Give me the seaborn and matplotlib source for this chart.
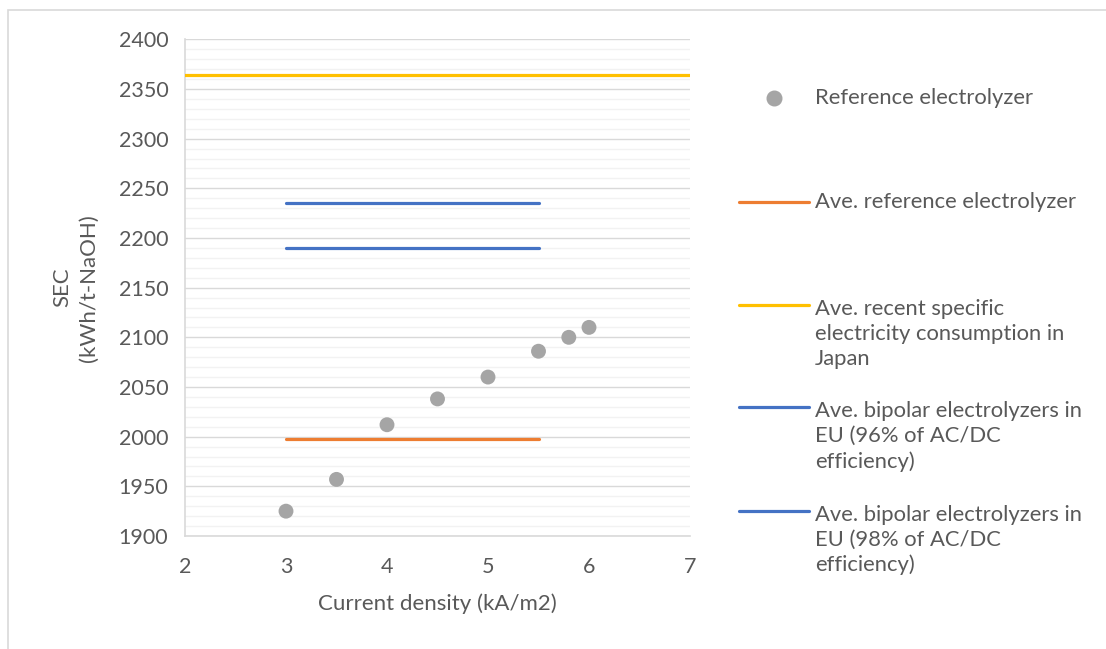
import matplotlib
matplotlib.use('Agg')
import matplotlib.pyplot as plt
import seaborn as sns
import pandas as pd
from matplotlib.lines import Line2D
from matplotlib.patches import Rectangle
from matplotlib.ticker import MultipleLocator

# Dados
current_density = [3, 3.5, 4, 4.5, 5, 5.5, 5.8, 6]
sec_reference = [1925, 1957, 2012, 2038, 2060, 2086, 2100, 2110]

avg_ref_x = [3, 5.5]
avg_ref_y = [1998, 1998]
avg_japan_x = [2, 7]
avg_japan_y = [2364, 2364]
avg_eu96_x = [3, 5.5]
avg_eu96_y = [2235, 2235]
avg_eu98_x = [3, 5.5]
avg_eu98_y = [2190, 2190]

legend_labels = [
    'Reference electrolyzer',
    'Ave. reference electrolyzer',
    'Ave. recent specific\nelectricity consumption in\nJapan',
    'Ave. bipolar electrolyzers in\nEU (96% of AC/DC\nefficiency)',
    'Ave. bipolar electrolyzers in\nEU (98% of AC/DC\nefficiency)',
]

c_gray = '#A5A5A5'
c_orange = '#ED7D31'
c_yellow = '#FFC000'
c_blue = '#4472C4'
c_text = '#595959'
c_axis = '#D9D9D9'

sns.set_style('white')
plt.rcParams['font.family'] = ['Lato', 'DejaVu Sans']

W, H = 1106, 649
fig = plt.figure(figsize=(W / 100, H / 100), dpi=100)
ax = fig.add_axes([185 / W, 1 - 536 / H, (690 - 185) / W, (536 - 39.3) / H])

df_pts = pd.DataFrame({'x': current_density, 'y': sec_reference})
sns.scatterplot(data=df_pts, x='x', y='y', ax=ax, color=c_gray, s=115,
                edgecolor='none', zorder=4)

lines = [
    (avg_ref_x, avg_ref_y, c_orange),
    (avg_japan_x, avg_japan_y, c_yellow),
    (avg_eu96_x, avg_eu96_y, c_blue),
    (avg_eu98_x, avg_eu98_y, c_blue),
]
for xs, ys, col in lines:
    sns.lineplot(x=xs, y=ys, ax=ax, color=col, linewidth=2.3, zorder=3)

ax.set_xlim(2, 7)
ax.set_ylim(1900, 2400)
ax.xaxis.set_major_locator(MultipleLocator(1))
ax.yaxis.set_major_locator(MultipleLocator(50))
ax.yaxis.set_minor_locator(MultipleLocator(10))
ax.grid(axis='y', which='major', color=c_axis, linewidth=1.0, zorder=0)
ax.grid(axis='y', which='minor', color='#F2F2F2', linewidth=1.0, zorder=0)
ax.grid(axis='x', visible=False)
ax.set_axisbelow(True)

for s in ['top', 'right']:
    ax.spines[s].set_visible(False)
for s in ['left', 'bottom']:
    ax.spines[s].set_color(c_axis)
    ax.spines[s].set_linewidth(1.2)

ax.tick_params(axis='both', which='major', direction='out', length=6,
               width=1, color=c_axis, labelsize=15.5, labelcolor=c_text, pad=6)
ax.tick_params(axis='y', which='minor', length=0)
ax.tick_params(axis='x', pad=9)

ax.set_xlabel('Current density (kA/m2)', fontsize=16, color=c_text, labelpad=12)
ax.set_ylabel('SEC\n(kWh/t-NaOH)', fontsize=16, color=c_text, labelpad=14,
              linespacing=1.45)

# legenda desenhada a mao (estilo Excel)
fig_h = lambda px: 1 - px / H
fig_w = lambda px: px / W
handle_y = [98, 202, 305, 407, 511]
text_y = [98, 202, 334, 436.5, 540]
colors = [c_gray, c_orange, c_yellow, c_blue, c_blue]
for i, lab in enumerate(legend_labels):
    if i == 0:
        fig.add_artist(Line2D([fig_w(774)], [fig_h(handle_y[i])], marker='o',
                              markersize=10.5, color=colors[i], linestyle='none',
                              transform=fig.transFigure))
    else:
        fig.add_artist(Line2D([fig_w(739), fig_w(809)], [fig_h(handle_y[i])] * 2,
                              color=colors[i], linewidth=2.3,
                              transform=fig.transFigure))
    fig.text(fig_w(815), fig_h(text_y[i]), lab, fontsize=15.8, color=c_text,
             va='center', ha='left', linespacing=1.3)

# moldura da area do grafico
fig.add_artist(Rectangle((8 / W, -0.05), 1.1, 1 - 10 / H + 0.05,
                         transform=fig.transFigure, fill=False,
                         edgecolor=c_axis, linewidth=1.2))

fig.savefig('out.png', dpi=100, facecolor='white')
